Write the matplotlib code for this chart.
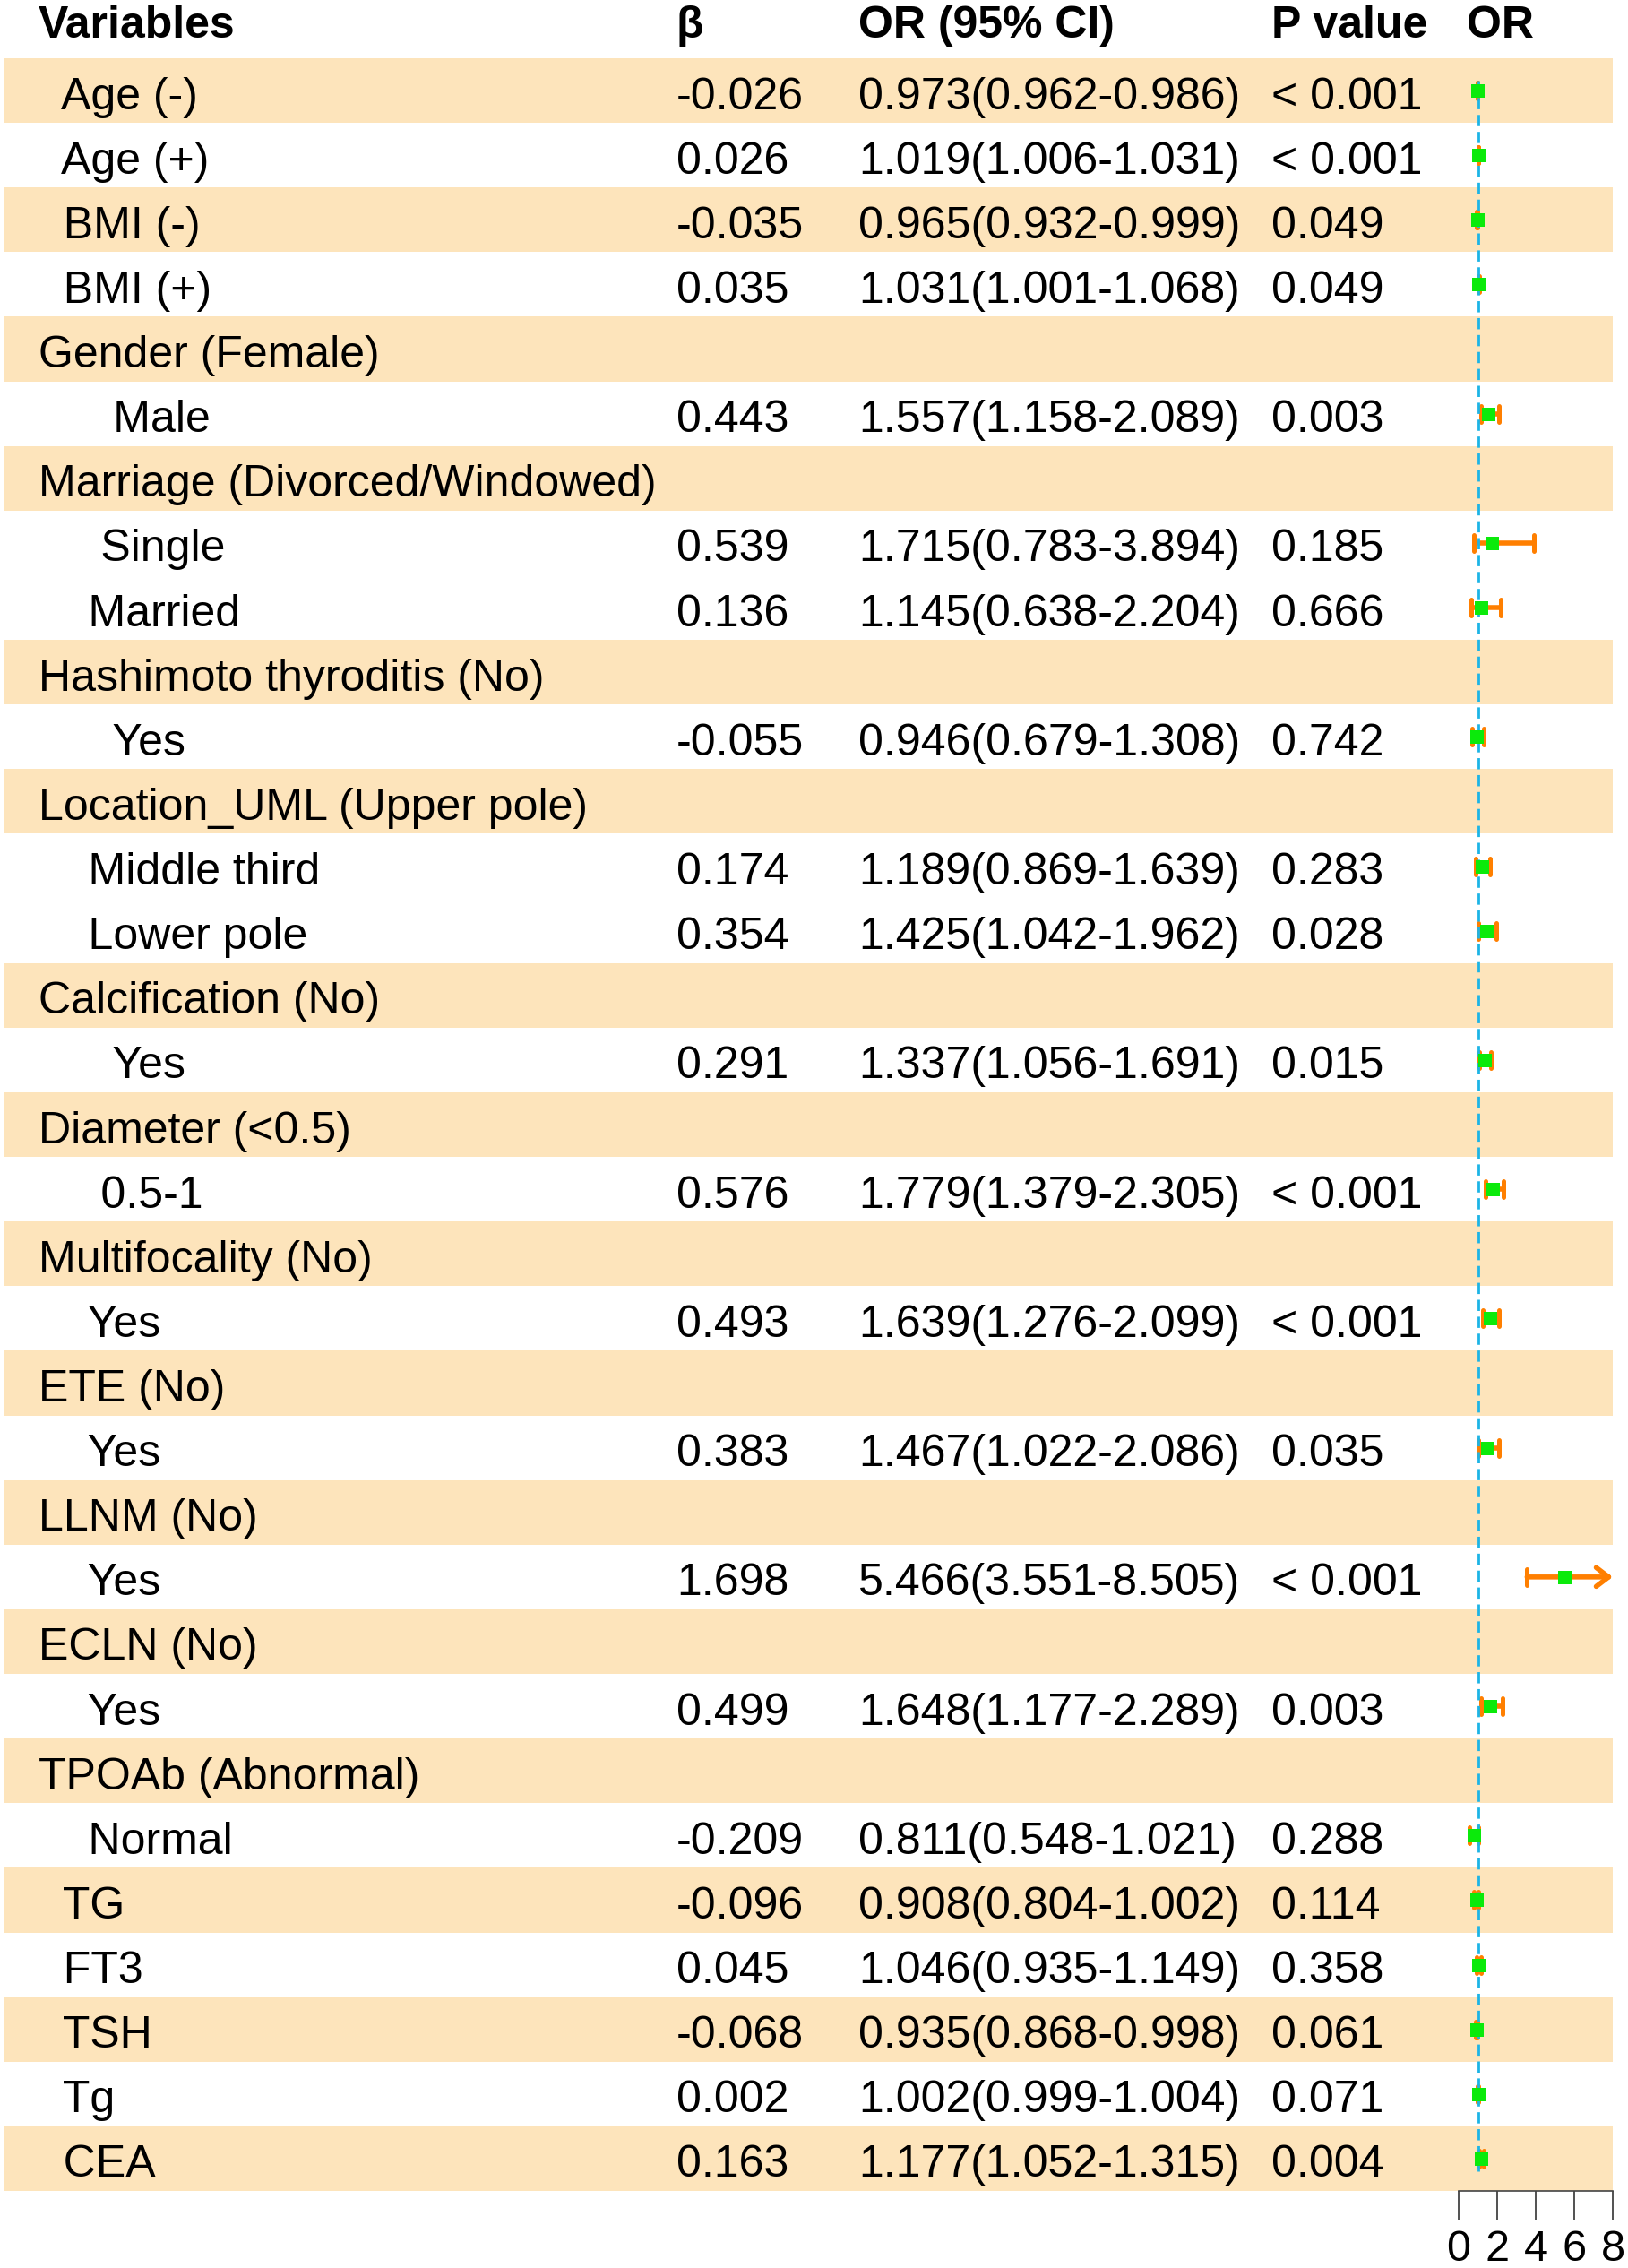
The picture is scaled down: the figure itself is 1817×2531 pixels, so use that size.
import matplotlib
matplotlib.use("Agg")
import matplotlib.pyplot as plt
from matplotlib.markers import MarkerStyle
from matplotlib import font_manager
import numpy as np

plt.rcParams['font.family'] = ['Liberation Sans', 'DejaVu Sans']

# ---------------- data ----------------
headers = ["Variables", "β", "OR (95% CI)", "P value", "OR"]
labels = [
    "  Age (-)", "  Age (+)", "  BMI (-)", "  BMI (+)",
    "Gender (Female)", "      Male",
    "Marriage (Divorced/Windowed)", "     Single", "    Married",
    "Hashimoto thyroditis (No)", "      Yes",
    "Location_UML (Upper pole)", "    Middle third", "    Lower pole",
    "Calcification (No)", "      Yes",
    "Diameter (<0.5)", "     0.5-1",
    "Multifocality (No)", "    Yes",
    "ETE (No)", "    Yes",
    "LLNM (No)", "    Yes",
    "ECLN (No)", "    Yes",
    "TPOAb (Abnormal)", "    Normal",
    "  TG", "  FT3", "  TSH", "  Tg", "  CEA",
]
nan = np.nan
beta = [-0.026, 0.026, -0.035, 0.035,
        nan, 0.443,
        nan, 0.539, 0.136,
        nan, -0.055,
        nan, 0.174, 0.354,
        nan, 0.291,
        nan, 0.576,
        nan, 0.493,
        nan, 0.383,
        nan, 1.698,
        nan, 0.499,
        nan, -0.209,
        -0.096, 0.045, -0.068, 0.002, 0.163]
odds = [0.973, 1.019, 0.965, 1.031,
        nan, 1.557,
        nan, 1.715, 1.145,
        nan, 0.946,
        nan, 1.189, 1.425,
        nan, 1.337,
        nan, 1.779,
        nan, 1.639,
        nan, 1.467,
        nan, 5.466,
        nan, 1.648,
        nan, 0.811,
        0.908, 1.046, 0.935, 1.002, 1.177]
ci_low = [0.962, 1.006, 0.932, 1.001,
          nan, 1.158,
          nan, 0.783, 0.638,
          nan, 0.679,
          nan, 0.869, 1.042,
          nan, 1.056,
          nan, 1.379,
          nan, 1.276,
          nan, 1.022,
          nan, 3.551,
          nan, 1.177,
          nan, 0.548,
          0.804, 0.935, 0.868, 0.999, 1.052]
ci_high = [0.986, 1.031, 0.999, 1.068,
           nan, 2.089,
           nan, 3.894, 2.204,
           nan, 1.308,
           nan, 1.639, 1.962,
           nan, 1.691,
           nan, 2.305,
           nan, 2.099,
           nan, 2.086,
           nan, 8.505,
           nan, 2.289,
           nan, 1.021,
           1.002, 1.149, 0.998, 1.004, 1.315]
p_values = ["< 0.001", "< 0.001", "0.049", "0.049",
            "", "0.003",
            "", "0.185", "0.666",
            "", "0.742",
            "", "0.283", "0.028",
            "", "0.015",
            "", "< 0.001",
            "", "< 0.001",
            "", "0.035",
            "", "< 0.001",
            "", "0.003",
            "", "0.288",
            "0.114", "0.358", "0.061", "0.071", "0.004"]
shaded_rows = [0, 2, 4, 6, 9, 11, 14, 16, 18, 20, 22, 24, 26, 28, 30, 32]
x_ticks = [0, 2, 4, 6, 8]
ref_value = 1

# ---------------- style ----------------
W, H = 1817, 2531
band_top, band_bot = 65, 2445
band_color = '#FDE4BB'
ci_color = '#FF7F00'
pt_color = '#0BEA0B'
ref_color = '#1CB4E6'
fs = 36
col_x = [43, 755, 958, 1419, 1637]
fx0, fx1 = 1628, 1800

installed = {f.name for f in font_manager.fontManager.ttflist}
tick_family = ['Liberation Sans Narrow'] if 'Liberation Sans Narrow' in installed else ['Liberation Sans']

n = len(labels)
rows = np.arange(n)

fig = plt.figure(figsize=(W / 100, H / 100), dpi=100)
b = (H - band_bot) / H
h = (band_bot - band_top) / H

ax_t = fig.add_axes([0, b, 1, h])
ax_t.set_xlim(0, W)
ax_t.set_ylim(n - 0.5, -0.5)
ax_t.axis('off')

# background bands
ax_t.barh(shaded_rows, width=1795, left=5, height=1.0, color=band_color,
          edgecolor='none', zorder=0)

# header
row_px = (band_bot - band_top) / n
hdr_y = -0.5 - (band_top - 42) / row_px
for x, t in zip(col_x, headers):
    ax_t.text(x, hdr_y, t, fontsize=fs, fontweight='bold', ha='left',
              va='baseline', clip_on=False)

base_off = 20.5 / row_px
for i in rows:
    y = i + base_off
    ax_t.text(col_x[0], y, labels[i], fontsize=fs, ha='left', va='baseline')
    if not np.isnan(beta[i]):
        ax_t.text(col_x[1], y, f"{beta[i]:.3f}", fontsize=fs, ha='left', va='baseline')
        ax_t.text(col_x[2], y, f"{odds[i]:.3f}({ci_low[i]:.3f}-{ci_high[i]:.3f})",
                  fontsize=fs, ha='left', va='baseline')
    if p_values[i]:
        ax_t.text(col_x[3], y, p_values[i], fontsize=fs, ha='left', va='baseline')

# forest
ax_f = fig.add_axes([fx0 / W, b, (fx1 - fx0) / W, h])
ax_f.patch.set_visible(False)
xmin, xmax = x_ticks[0], x_ticks[-1]
ax_f.set_xlim(xmin, xmax)
ax_f.set_ylim(n - 0.5, -0.5)
for s in ['top', 'left', 'right']:
    ax_f.spines[s].set_visible(False)
ax_f.spines['bottom'].set_linewidth(1.2)
ax_f.spines['bottom'].set_color('#444444')
ax_f.set_yticks([])
ax_f.set_xticks(x_ticks)
ax_f.tick_params(axis='x', direction='out', length=23, width=1.2,
                 color='#333333', labelsize=35, pad=8)
for lab in ax_f.get_xticklabels():
    lab.set_family(tick_family)

cap_marker = MarkerStyle('|', capstyle='round')
lo_arr = np.array(ci_low)
hi_arr = np.array(ci_high)
or_arr = np.array(odds)
valid = ~np.isnan(or_arr)
for i in rows[valid]:
    lo, hi = lo_arr[i], hi_arr[i]
    lo_c, hi_c = max(lo, xmin), min(hi, xmax)
    if hi > xmax:
        ax_f.annotate('', xy=(hi_c, i), xytext=(lo_c, i),
                      arrowprops=dict(arrowstyle='->, head_length=0.5, head_width=0.38',
                                      color=ci_color, lw=4, shrinkA=0, shrinkB=0,
                                      mutation_scale=20, capstyle='round',
                                      joinstyle='round'),
                      annotation_clip=False, zorder=2)
    else:
        ax_f.plot([lo_c, hi_c], [i, i], color=ci_color, lw=4,
                  solid_capstyle='butt', zorder=2, clip_on=False)
    ends = [lo_c] if hi > xmax else [lo_c, hi_c]
    if lo < xmin:
        ends = [e for e in ends if e != lo_c]
    ax_f.plot(ends, [i] * len(ends), linestyle='none', marker=cap_marker,
              markersize=13, markeredgewidth=3.6, color=ci_color, zorder=2,
              clip_on=False)

ax_f.plot([ref_value, ref_value], [-0.15, n - 1 + 0.2], color=ref_color, lw=2,
          dashes=(4.5, 2.3), zorder=3, clip_on=False)

ax_f.plot(or_arr[valid], rows[valid], linestyle='none', marker='s',
          markersize=10.8, color=pt_color, markeredgewidth=0, zorder=4,
          clip_on=False)

fig.savefig('out.png', dpi=100)
